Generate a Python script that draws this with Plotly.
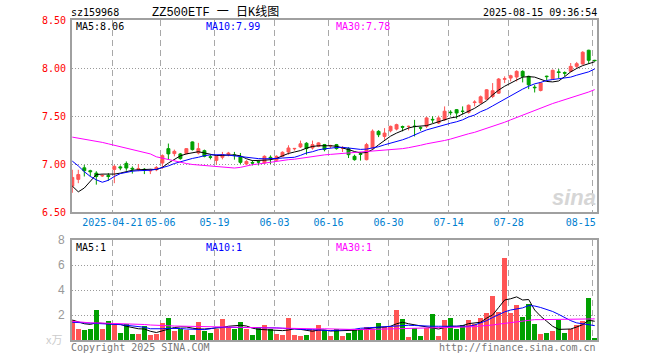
import plotly.graph_objects as go
import pandas as pd

# ---------------- data ----------------
holidays = ["2025-05-01", "2025-05-02", "2025-05-05", "2025-06-02"]
dates = [d.strftime("%Y-%m-%d") for d in
         pd.bdate_range("2025-04-10", "2025-08-15", freq="C", holidays=holidays)]

opens = [6.77, 6.84, 6.96, 6.93, 6.905, 6.875, 6.88, 6.944, 6.97, 7.006,
         6.955, 6.945, 6.945, 6.928, 6.94, 7.01, 7.16, 7.108, 7.105, 7.108,
         7.23, 7.115, 7.139, 7.075, 7.038, 7.07, 7.10, 7.095, 7.073, 7.0,
         7.015, 7.025, 7.01, 7.07, 7.04, 7.08, 7.125, 7.158, 7.178, 7.216,
         7.167, 7.185, 7.202, 7.188, 7.202, 7.165, 7.16, 7.08, 7.108, 7.045,
         7.167, 7.34, 7.287, 7.346, 7.364, 7.39, 7.39, 7.395, 7.378, 7.392,
         7.465, 7.427, 7.46, 7.54, 7.566, 7.55, 7.538, 7.64, 7.636, 7.675,
         7.703, 7.738, 7.883, 7.895, 7.906, 7.965, 7.913, 7.80, 7.766, 7.915,
         7.888, 7.96, 7.952, 7.965, 8.017, 8.042, 8.185, 8.08]
highs = [6.94, 6.94, 6.99, 6.94, 6.925, 6.895, 6.905, 6.99, 6.985, 7.027,
         6.975, 7.00, 6.958, 6.95, 6.978, 7.10, 7.213, 7.15, 7.115, 7.165,
         7.235, 7.22, 7.15, 7.097, 7.09, 7.126, 7.126, 7.126, 7.115, 7.04,
         7.04, 7.03, 7.09, 7.09, 7.09, 7.132, 7.195, 7.167, 7.244, 7.227,
         7.244, 7.227, 7.209, 7.20, 7.209, 7.185, 7.174, 7.097, 7.125, 7.22,
         7.36, 7.352, 7.374, 7.40, 7.42, 7.40, 7.40, 7.46, 7.39, 7.49,
         7.497, 7.503, 7.60, 7.56, 7.573, 7.60, 7.62, 7.664, 7.713, 7.78,
         7.843, 7.895, 7.913, 7.93, 7.976, 7.976, 7.92, 7.825, 7.853, 7.92,
         7.983, 7.99, 7.965, 8.052, 8.063, 8.175, 8.19, 8.085]
lows = [6.70, 6.80, 6.87, 6.87, 6.785, 6.865, 6.825, 6.80, 6.935, 6.93,
        6.90, 6.925, 6.895, 6.895, 6.925, 6.95, 7.045, 7.08, 7.045, 7.10,
        7.14, 7.10, 7.07, 7.048, 6.995, 7.048, 7.08, 7.045, 7.0, 6.99,
        6.985, 6.985, 7.0, 7.0, 7.03, 7.07, 7.097, 7.14, 7.167, 7.097,
        7.15, 7.175, 7.132, 7.167, 7.15, 7.125, 7.062, 7.035, 7.035, 7.038,
        7.15, 7.28, 7.252, 7.33, 7.35, 7.34, 7.35, 7.287, 7.346, 7.374,
        7.427, 7.416, 7.45, 7.507, 7.472, 7.52, 7.524, 7.60, 7.63, 7.668,
        7.686, 7.73, 7.843, 7.86, 7.86, 7.85, 7.78, 7.745, 7.756, 7.87,
        7.878, 7.895, 7.913, 7.955, 8.0, 8.035, 8.042, 8.07]
closes = [6.86, 6.89, 6.93, 6.92, 6.87, 6.88, 6.87, 6.975, 6.96, 6.958,
          6.948, 6.95, 6.94, 6.932, 6.964, 7.087, 7.105, 7.132, 7.056, 7.16,
          7.15, 7.16, 7.08, 7.07, 7.08, 7.097, 7.113, 7.088, 7.017, 7.027,
          7.01, 7.02, 7.08, 7.063, 7.08, 7.122, 7.167, 7.162, 7.21, 7.16,
          7.202, 7.22, 7.15, 7.192, 7.16, 7.168, 7.097, 7.045, 7.10, 7.202,
          7.342, 7.305, 7.322, 7.392, 7.41, 7.383, 7.392, 7.39, 7.374, 7.48,
          7.46, 7.48, 7.55, 7.535, 7.531, 7.548, 7.612, 7.645, 7.70, 7.773,
          7.763, 7.885, 7.888, 7.92, 7.965, 7.913, 7.825, 7.795, 7.843, 7.91,
          7.976, 7.953, 7.946, 8.017, 8.045, 8.164, 8.08, 8.077]

ma5 = [6.77, 6.71, 6.75, 6.82, 6.89, 6.895, 6.895, 6.895, 6.905, 6.92,
       6.935, 6.94, 6.945, 6.945, 6.942, 6.965, 7.01, 7.048, 7.085, 7.105,
       7.12, 7.128, 7.115, 7.10, 7.088, 7.09, 7.095, 7.095, 7.085, 7.055,
       7.035, 7.035, 7.04, 7.045, 7.058, 7.085, 7.11, 7.125, 7.14, 7.165,
       7.183, 7.19, 7.192, 7.19, 7.185, 7.17, 7.15, 7.13, 7.115, 7.12,
       7.15, 7.20, 7.25, 7.29, 7.322, 7.35, 7.375, 7.39, 7.395, 7.40,
       7.42, 7.44, 7.465, 7.48, 7.49, 7.52, 7.55, 7.58, 7.62, 7.66,
       7.72, 7.77, 7.81, 7.845, 7.875, 7.905, 7.91, 7.905, 7.88, 7.86,
       7.855, 7.865, 7.91, 7.96, 7.995, 8.025, 8.045, 8.065]
ma10 = [7.03, 6.98, 6.92, 6.87, 6.835, 6.81, 6.83, 6.87, 6.90, 6.915,
        6.925, 6.93, 6.932, 6.935, 6.945, 6.96, 6.98, 7.005, 7.025, 7.045,
        7.058, 7.07, 7.087, 7.095, 7.098, 7.097, 7.092, 7.085, 7.078, 7.07,
        7.06, 7.056, 7.054, 7.054, 7.058, 7.062, 7.066, 7.07, 7.09, 7.115,
        7.128, 7.148, 7.158, 7.166, 7.172, 7.174, 7.168, 7.16, 7.152, 7.155,
        7.165, 7.18, 7.20, 7.215, 7.235, 7.252, 7.275, 7.305, 7.33, 7.355,
        7.374, 7.395, 7.41, 7.425, 7.44, 7.46, 7.49, 7.51, 7.545, 7.57,
        7.605, 7.64, 7.68, 7.71, 7.745, 7.78, 7.81, 7.835, 7.85, 7.87,
        7.88, 7.888, 7.897, 7.905, 7.925, 7.94, 7.96, 7.99]
ma30 = [7.28, 7.27, 7.26, 7.25, 7.24, 7.225, 7.21, 7.195, 7.18, 7.165,
        7.15, 7.135, 7.12, 7.105, 7.075, 7.06, 7.045, 7.03, 7.015, 7.005,
        6.995, 6.99, 6.985, 6.98, 6.97, 6.963, 6.958, 6.958, 6.965, 6.98,
        6.993, 7.0, 7.01, 7.015, 7.025, 7.035, 7.045, 7.05, 7.06, 7.065,
        7.075, 7.085, 7.095, 7.10, 7.105, 7.11, 7.115, 7.12, 7.122, 7.125,
        7.13, 7.135, 7.14, 7.15, 7.155, 7.16, 7.17, 7.18, 7.195, 7.21,
        7.22, 7.232, 7.245, 7.26, 7.28, 7.30, 7.315, 7.33, 7.35, 7.37,
        7.39, 7.41, 7.435, 7.46, 7.485, 7.51, 7.535, 7.56, 7.585, 7.61,
        7.63, 7.65, 7.67, 7.69, 7.705, 7.725, 7.75, 7.775]

volumes = [1.58, 0.91, 0.83, 0.91, 2.38, 0.91, 1.55, 1.18, 0.59, 1.31,
           0.51, 0.51, 1.15, 0.40, 0.48, 1.39, 1.79, 0.75, 0.91, 0.83,
           0.43, 1.47, 0.70, 0.59, 0.91, 1.71, 1.02, 0.91, 1.47, 0.91,
           0.43, 1.07, 1.23, 0.91, 0.51, 0.43, 1.79, 0.43, 0.29, 0.43,
           0.83, 1.23, 0.83, 0.29, 0.88, 0.35, 0.54, 0.78, 0.78, 1.07,
           0.91, 1.39, 1.02, 1.02, 2.44, 1.71, 0.21, 0.99, 0.29, 0.94,
           2.12, 0.29, 1.63, 1.79, 0.88, 1.23, 1.63, 1.31, 1.79, 2.14,
           3.56, 2.28, 6.53, 2.20, 2.84, 1.87, 2.92, 1.31, 0.51, 0.59,
           0.70, 1.58, 0.59, 0.91, 1.23, 1.50, 3.40, 0.13]
vol_ma5 = [1.60, 1.45, 1.30, 1.25, 1.37, 1.33, 1.30, 1.30, 1.25, 1.10,
           1.00, 0.90, 0.88, 0.70, 0.60, 0.72, 0.90, 1.00, 1.05, 1.04,
           0.95, 0.88, 0.88, 0.90, 0.92, 1.00, 1.10, 1.15, 1.18, 1.12,
           0.95, 0.85, 0.83, 0.83, 0.80, 0.75, 0.80, 0.90, 0.85, 0.78,
           0.70, 0.80, 0.80, 0.72, 0.72, 0.75, 0.75, 0.78, 0.83, 0.90,
           0.95, 1.02, 1.04, 1.10, 1.30, 1.42, 1.30, 1.22, 1.18, 1.05,
           1.00, 0.88, 1.00, 1.10, 1.10, 1.15, 1.31, 1.38, 1.42, 1.75,
           2.00, 2.60, 3.20, 3.30, 3.45, 3.20, 3.24, 2.40, 1.90, 1.50,
           1.10, 0.85, 0.85, 0.88, 1.04, 1.23, 1.58, 1.50]
vol_ma10 = [1.42, 1.40, 1.38, 1.35, 1.33, 1.31, 1.28, 1.25, 1.23, 1.18,
            1.14, 1.10, 1.02, 0.90, 0.88, 0.90, 0.93, 0.94, 0.92, 0.88,
            0.87, 0.85, 0.83, 0.90, 1.00, 1.02, 1.02, 1.00, 0.98, 0.96,
            0.98, 1.00, 1.02, 1.00, 0.97, 0.94, 0.90, 0.86, 0.83, 0.83,
            0.83, 0.80, 0.78, 0.75, 0.78, 0.80, 0.82, 0.86, 0.94, 0.97,
            1.00, 1.04, 1.08, 1.12, 1.15, 1.17, 1.18, 1.16, 1.12, 1.10,
            1.10, 1.10, 1.10, 1.08, 1.06, 1.04, 1.10, 1.20, 1.37, 1.55,
            1.80, 2.05, 2.25, 2.40, 2.50, 2.57, 2.76, 2.72, 2.60, 2.44,
            2.28, 2.05, 1.80, 1.55, 1.37, 1.28, 1.22, 1.15]
vol_ma30 = [1.50, 1.45, 1.40, 1.37, 1.37, 1.36, 1.35, 1.34, 1.33, 1.32,
            1.31, 1.28, 1.24, 1.20, 1.16, 1.15, 1.14, 1.12, 1.11, 1.10,
            1.09, 1.08, 1.06, 1.04, 1.03, 1.03, 1.02, 1.01, 1.00, 0.99,
            0.98, 0.97, 0.96, 0.95, 0.94, 0.93, 0.92, 0.90, 0.88, 0.88,
            0.88, 0.89, 0.90, 0.88, 0.87, 0.86, 0.85, 0.84, 0.83, 0.84,
            0.85, 0.86, 0.88, 0.90, 0.91, 0.92, 0.93, 0.93, 0.94, 0.94,
            0.95, 0.96, 0.98, 0.99, 1.00, 1.02, 1.05, 1.08, 1.11, 1.15,
            1.20, 1.27, 1.33, 1.38, 1.45, 1.52, 1.60, 1.63, 1.63, 1.63,
            1.63, 1.63, 1.64, 1.65, 1.66, 1.67, 1.68, 1.69]

tick_dates = ["2025-04-21", "2025-05-06", "2025-05-19", "2025-06-03", "2025-06-16",
              "2025-06-30", "2025-07-14", "2025-07-28", "2025-08-15"]
tick_labels = ["2025-04-21", "05-06", "05-19", "06-03", "06-16",
               "06-30", "07-14", "07-28", "08-15\u00a0\u00a0\u00a0\u00a0"]
price_ticks = [6.5, 7.0, 7.5, 8.0, 8.5]
price_tick_labels = ["6.50", "7.00", "7.50", "8.00", "8.50"]
vol_ticks = [2, 4, 6, 8]
vol_tick_labels = ["2", "4", "6", "8"]

# ---------------- styling ----------------
RED = "#FF5555"
GREEN = "#00A000"
MONO = "DejaVu Sans Mono, Liberation Mono, monospace"
GRIDC = "#A8A8A8"
BORDER = "#A0A0A0"

x = list(range(len(dates)))
tickvals = [dates.index(d) - 0.33 for d in tick_dates]
vol_colors = [RED if c >= o else GREEN for o, c in zip(opens, closes)]

fig = go.Figure()
fig.add_trace(go.Candlestick(
    x=x, open=opens, high=highs, low=lows, close=closes,
    increasing=dict(line=dict(color=RED, width=1), fillcolor=RED),
    decreasing=dict(line=dict(color=GREEN, width=1), fillcolor=GREEN),
    whiskerwidth=0, xaxis="x", yaxis="y", showlegend=False, hoverinfo="skip"))
for vals, col in [(ma5, "black"), (ma10, "#0000FF"), (ma30, "#FF00FF")]:
    fig.add_trace(go.Scatter(x=x, y=vals, mode="lines", line=dict(color=col, width=1),
                             xaxis="x", yaxis="y", showlegend=False, hoverinfo="skip"))

fig.add_trace(go.Bar(x=x, y=volumes, marker=dict(color=vol_colors, line=dict(width=0)),
                     width=0.8, xaxis="x2", yaxis="y2", showlegend=False, hoverinfo="skip"))
for vals, col in [(vol_ma5, "black"), (vol_ma10, "#0000FF"), (vol_ma30, "#FF00FF")]:
    fig.add_trace(go.Scatter(x=x, y=vals, mode="lines", line=dict(color=col, width=1),
                             xaxis="x2", yaxis="y2", showlegend=False, hoverinfo="skip"))

xrange = [-0.05, len(dates) - 1 + 0.38]
common_x = dict(range=xrange, tickvals=tickvals, showgrid=True, gridcolor=GRIDC,
                griddash="6px,4px", gridwidth=1, showline=True, linecolor=BORDER,
                linewidth=2, mirror=True, zeroline=False, ticks="", fixedrange=True)

fig.update_layout(
    width=660, height=360,
    margin=dict(l=72, r=63, t=20, b=20),
    paper_bgcolor="white", plot_bgcolor="white",
    bargap=0,
    xaxis=dict(domain=[0, 1], anchor="y", ticktext=tick_labels,
               tickfont=dict(family=MONO, size=10, color="#0080D0"),
               rangeslider=dict(visible=False), **common_x),
    yaxis=dict(domain=[0.4, 1.0], anchor="x", range=[6.5, 8.5],
               tickvals=price_ticks, ticktext=price_tick_labels,
               tickfont=dict(family=MONO, size=10, color="#FF0000"),
               showgrid=True, gridcolor="#9A9A9A", griddash="1px,2px", gridwidth=1,
               showline=True, linecolor=BORDER, linewidth=2, mirror=True,
               zeroline=False, ticks="", ticklabelstandoff=2, fixedrange=True),
    xaxis2=dict(domain=[0, 1], anchor="y2", showticklabels=False, **common_x),
    yaxis2=dict(domain=[0, 0.3125], anchor="x2", range=[0, 8],
                tickvals=vol_ticks, ticktext=vol_tick_labels,
                tickfont=dict(family="Liberation Sans, Arial, sans-serif", size=12, color="#999999"),
                showgrid=True, gridcolor="#9A9A9A", griddash="1px,2px", gridwidth=1,
                showline=True, linecolor=BORDER, linewidth=2, mirror=True,
                zeroline=False, ticks="", ticklabelstandoff=3, fixedrange=True),
)

def ann(text, xp, yp, color="black", size=10, xanchor="left", family=MONO, **kw):
    fig.add_annotation(text=text, x=xp, y=yp, xref="paper", yref="paper",
                       xanchor=xanchor, yanchor="middle", showarrow=False,
                       font=dict(family=family, size=size, color=color), **kw)

W, H = 660, 360
pl, pw = 72, 660 - 72 - 63
pb, ph = 20, 360 - 40

def px(xpix):
    return (xpix - pl) / pw

def py(ypix):
    return (H - pb - ypix) / ph

ann("sz159968", px(69), py(13))
ann("ZZ500ETF 一 日K线图", px(215), py(13), size=12, xanchor="center",
    family="Liberation Mono, Noto Sans CJK SC, monospace")
ann("2025-08-15 09:36:54", px(599), py(13), xanchor="right")
ann("MA5:8.06", px(74), py(27))
ann("MA10:7.99", px(204), py(27), color="#0000FF")
ann("MA30:7.78", px(334), py(27), color="#FF00FF")
ann("MA5:1", px(74), py(247))
ann("MA10:1", px(204), py(247), color="#0000FF")
ann("MA30:1", px(334), py(247), color="#FF00FF")
ann("Copyright 2025 SINA.COM", px(69), py(347), color="#777777")
ann("http://finance.sina.com.cn", px(598), py(347), color="#777777", xanchor="right")
ann("x万", px(64), py(339), color="#CCCCCC", xanchor="right",
    family="Noto Sans CJK SC, sans-serif", size=11)
ann("<b><i>sina</i></b>", px(598), py(197), color="#D6D6D6", xanchor="right",
    family="Liberation Sans, Arial, sans-serif", size=22)

fig.write_html("out.html",
               config={"displayModeBar": False, "staticPlot": True},
               post_script="document.body.style.margin='0';document.body.style.padding='0';")
